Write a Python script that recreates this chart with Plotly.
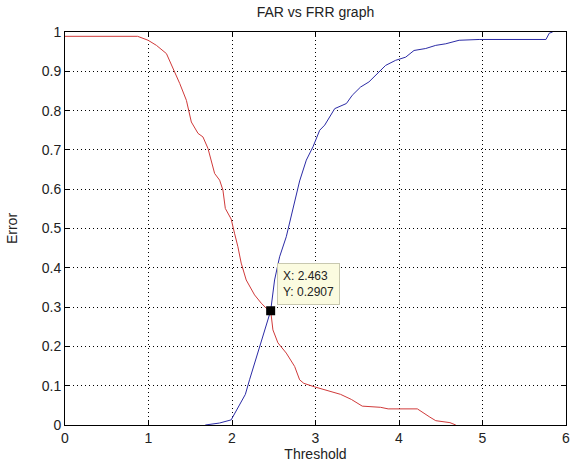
import plotly.graph_objects as go

# FAR curve (red, decreasing)
far_x = [0.0, 0.87, 0.995, 1.095, 1.215, 1.29, 1.374, 1.454, 1.513, 1.593, 1.652, 1.712, 1.792, 1.852,
         1.891, 1.92, 1.99, 2.03, 2.07, 2.11, 2.17, 2.27, 2.35, 2.43, 2.463, 2.49, 2.55, 2.65, 2.75,
         2.81, 2.86, 2.99, 3.17, 3.30, 3.43, 3.56, 3.78, 3.87, 4.22, 4.31, 4.37, 4.44, 4.61, 4.68]
far_y = [0.989, 0.989, 0.979, 0.966, 0.945, 0.911, 0.869, 0.826, 0.771, 0.742, 0.733, 0.704, 0.640, 0.623,
         0.598, 0.551, 0.524, 0.488, 0.454, 0.412, 0.369, 0.331, 0.310, 0.293, 0.2907, 0.242, 0.209, 0.183, 0.149,
         0.115, 0.106, 0.097, 0.087, 0.078, 0.065, 0.048, 0.045, 0.041, 0.041, 0.027, 0.020, 0.011, 0.006, 0.0]

# FRR curve (blue, increasing)
frr_x = [1.68, 1.85, 1.99, 2.09, 2.16, 2.21, 2.33, 2.41, 2.463, 2.51, 2.57, 2.65, 2.73, 2.81, 2.89, 2.97,
         3.05, 3.11, 3.23, 3.37, 3.44, 3.54, 3.64, 3.76, 3.84, 3.96, 4.08, 4.18, 4.32, 4.44, 4.56, 4.72,
         4.96, 5.76, 5.80, 5.84]
frr_y = [0.0, 0.005, 0.013, 0.05, 0.078, 0.115, 0.2, 0.259, 0.2907, 0.369, 0.428, 0.479, 0.547, 0.621, 0.674, 0.708,
         0.750, 0.763, 0.805, 0.818, 0.839, 0.860, 0.873, 0.898, 0.915, 0.928, 0.936, 0.953, 0.958, 0.966, 0.970, 0.979,
         0.981, 0.981, 0.997, 1.0]

eer_x = [2.463]
eer_y = [0.2907]

x_ticks = [0, 1, 2, 3, 4, 5, 6]
y_ticks = [0, 0.1, 0.2, 0.3, 0.4, 0.5, 0.6, 0.7, 0.8, 0.9, 1]
y_tick_labels = ["0", "0.1", "0.2", "0.3", "0.4", "0.5", "0.6", "0.7", "0.8", "0.9", "1"]

FONT = "Liberation Sans, Arial, sans-serif"

fig = go.Figure()
fig.add_trace(go.Scatter(x=far_x, y=far_y, mode="lines", line=dict(color="#d03a3a", width=1), name="FAR"))
fig.add_trace(go.Scatter(x=frr_x, y=frr_y, mode="lines", line=dict(color="#2b2ba6", width=1), name="FRR"))
fig.add_trace(go.Scatter(x=eer_x, y=eer_y, mode="markers",
                         marker=dict(color="black", size=9, symbol="square"), name="EER"))

fig.add_annotation(x=eer_x[0], y=eer_y[0], xref="x", yref="y",
                   text="X: %.3f<br>Y: %.4f" % (eer_x[0], eer_y[0]),
                   showarrow=False, xanchor="left", yanchor="bottom", xshift=6, yshift=6,
                   align="left", bgcolor="#fbfbe0", bordercolor="#c8c8b0", borderwidth=1, borderpad=5,
                   font=dict(family=FONT, size=12, color="#222"))

axis_common = dict(showgrid=True, gridcolor="black", griddash="1px,3px", gridwidth=1,
                   showline=True, linecolor="black", linewidth=1, mirror="ticks",
                   ticks="inside", ticklen=4, tickcolor="black", zeroline=False, automargin=False,
                   tickfont=dict(family=FONT, size=14, color="#222"))

fig.update_layout(
    width=572, height=465,
    paper_bgcolor="white", plot_bgcolor="white",
    margin=dict(l=65, r=6, t=32, b=40),
    showlegend=False,
    title=dict(text="FAR vs FRR graph", x=(65 + 566) / 2 / 572, xanchor="center", y=1 - 12 / 465, yanchor="middle",
               font=dict(family=FONT, size=14, color="#222")),
    xaxis=dict(range=[0, 6], tickvals=x_ticks, ticktext=[str(v) for v in x_ticks], ticklabelstandoff=0,
               title=dict(text="Threshold", standoff=2, font=dict(family=FONT, size=14, color="#222")),
               **axis_common),
    yaxis=dict(range=[0, 1], tickvals=y_ticks, ticktext=y_tick_labels,
               title=dict(text="Error", standoff=20, font=dict(family=FONT, size=14, color="#222")),
               **axis_common),
)

fig.write_html("out.html", config={"displayModeBar": False},
               post_script="document.body.style.margin='0';document.body.style.overflow='hidden';")
